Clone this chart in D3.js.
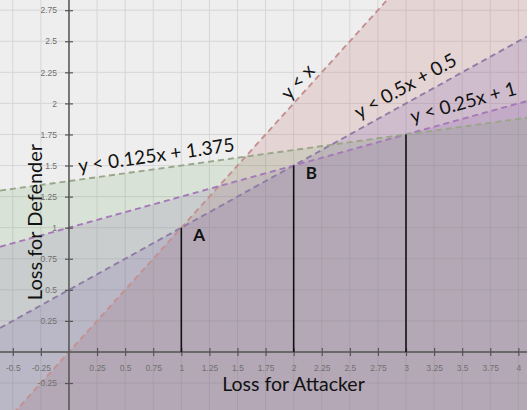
<!DOCTYPE html>
<html><head><meta charset="utf-8">
<script src="https://cdn.jsdelivr.net/npm/d3@7"></script>
<style>html,body{margin:0;padding:0;background:#fff;overflow:hidden}</style>
</head><body><svg id="c" width="529" height="410"></svg>
<script>
// ---- data ----
const lineLabels = ["y < x", "y < 0.5x + 0.5", "y < 0.25x + 1", "y < 0.125x + 1.375"];
const slopes = [1, 0.5, 0.25, 0.125];
const intercepts = [0, 0.5, 1, 1.375];
const labelAtX = [2.112, 2.62, 3.08, 0.1];
const labelAnchor = ["middle", "start", "start", "start"];
const pointNames = ["A", "B"];
const pointX = [1, 2];
const pointY = [1, 1.5];
const dropX = [1, 2, 3];
const dropY = [1, 1.5, 1.75];
const xTickValues = [-0.5, -0.25, 0.25, 0.5, 0.75, 1, 1.25, 1.5, 1.75, 2, 2.25, 2.5, 2.75, 3, 3.25, 3.5, 3.75, 4];
const yTickValues = [-0.25, 0.25, 0.5, 0.75, 1, 1.25, 1.5, 1.75, 2, 2.25, 2.5, 2.75];
const gridStep = 0.25;
const xTitle = "Loss for Attacker";
const yTitle = "Loss for Defender";

// ---- styles ----
const fillColors = ["#c07070", "#6a4aa8", "#8a5ab4", "#5a9a50"];
const fillOpacity = [0.2, 0.17, 0.17, 0.14];
const strokeColors = ["#c49090", "#8f7ca6", "#a578b8", "#9aa68a"];
const labelOffset = [-5, -9, -9, -7];

const W = 527, H = 410;
const x = d3.scaleLinear().domain([-0.614, 4.077]).range([0, W]);
const y = d3.scaleLinear().domain([-0.467, 2.832]).range([H, 0]);

const svg = d3.select("#c");
svg.append("defs").append("clipPath").attr("id", "clip")
  .append("rect").attr("x", 0).attr("y", 0).attr("width", W).attr("height", H);
const g = svg.append("g").attr("clip-path", "url(#clip)");

g.append("rect").attr("width", W).attr("height", H).attr("fill", "#eeeeee");

// grid
const [x0, x1] = x.domain(), [y0, y1] = y.domain();
const gx = d3.range(Math.ceil(x0 / gridStep) * gridStep, x1, gridStep);
const gy = d3.range(Math.ceil(y0 / gridStep) * gridStep, y1, gridStep);
g.append("g").selectAll("line").data(gx).join("line")
  .attr("x1", d => x(d)).attr("x2", d => x(d)).attr("y1", 0).attr("y2", H)
  .attr("stroke", "#d6d6d6").attr("stroke-width", 1);
g.append("g").selectAll("line").data(gy).join("line")
  .attr("y1", d => y(d)).attr("y2", d => y(d)).attr("x1", 0).attr("x2", W)
  .attr("stroke", "#d6d6d6").attr("stroke-width", 1);

// shaded regions
const idx = d3.range(slopes.length);
const f = (i, xv) => slopes[i] * xv + intercepts[i];
g.append("g").selectAll("path").data(idx).join("path")
  .attr("d", i => d3.line()([[x(x0), y(y0)], [x(x0), y(f(i, x0))], [x(x1), y(f(i, x1))], [x(x1), y(y0)]]) + "Z")
  .attr("fill", i => fillColors[i]).attr("fill-opacity", i => fillOpacity[i]);

// dashed boundaries
g.append("g").selectAll("line").data(idx).join("line")
  .attr("x1", x(x0)).attr("x2", x(x1))
  .attr("y1", i => y(f(i, x0))).attr("y2", i => y(f(i, x1)))
  .attr("stroke", i => strokeColors[i]).attr("stroke-width", 1.9)
  .attr("stroke-dasharray", "6,4");

// axes lines
g.append("line").attr("x1", x(0)).attr("x2", x(0)).attr("y1", 0).attr("y2", H)
  .attr("stroke", "#555").attr("stroke-width", 1.5);
g.append("line").attr("y1", y(0)).attr("y2", y(0)).attr("x1", 0).attr("x2", W)
  .attr("stroke", "#555").attr("stroke-width", 1.5);

// tick axes
const ax = g.append("g").attr("transform", `translate(0,${y(0)})`)
  .call(d3.axisBottom(x).tickValues(xTickValues).tickFormat(d => String(d)).tickSize(4).tickPadding(9));
const ay = g.append("g").attr("transform", `translate(${x(0)},0)`)
  .call(d3.axisLeft(y).tickValues(yTickValues).tickFormat(d => String(d)).tickSize(4).tickPadding(8));
[ax, ay].forEach(a => {
  a.select(".domain").remove();
  a.selectAll("text").attr("font-family", "Liberation Sans, Arial, sans-serif")
    .attr("font-size", 8.5).attr("fill", "#707070");
  a.selectAll("line").attr("stroke", "#555").attr("stroke-width", 1.2);
});
ax.selectAll(".tick line").attr("y1", -4).attr("y2", 4);
ay.selectAll(".tick line").attr("x1", -4).attr("x2", 4);

// drop segments
g.append("g").selectAll("line").data(dropX).join("line")
  .attr("x1", d => x(d)).attr("x2", d => x(d))
  .attr("y1", y(0)).attr("y2", (d, i) => y(dropY[i]))
  .attr("stroke", "#111").attr("stroke-width", 1.6);

// inequality labels
const angle = i => Math.atan2(y(slopes[i]) - y(0), x(1) - x(0)) * 180 / Math.PI;
g.append("g").selectAll("text").data(idx).join("text")
  .attr("transform", i => `translate(${x(labelAtX[i])},${y(f(i, labelAtX[i]))}) rotate(${angle(i)})`)
  .attr("y", i => labelOffset[i])
  .attr("text-anchor", i => labelAnchor[i])
  .attr("font-family", "Lato, 'Open Sans', sans-serif").attr("font-size", 19)
  .attr("fill", "#111")
  .text(i => lineLabels[i]);

// point labels
g.append("g").selectAll("text").data(pointNames).join("text")
  .attr("x", (d, i) => x(pointX[i]) + 12).attr("y", (d, i) => y(pointY[i]) + 13.5)
  .attr("font-family", "Lato, sans-serif").attr("font-weight", "bold").attr("font-size", 17)
  .attr("fill", "#111").text(d => d);

// axis titles
g.append("text").attr("x", 293.5).attr("y", 391).attr("text-anchor", "middle")
  .attr("font-family", "Lato, sans-serif").attr("font-size", 19.5).attr("fill", "#111").text(xTitle);
g.append("text").attr("transform", "translate(42,222) rotate(-90)").attr("text-anchor", "middle")
  .attr("font-family", "Lato, sans-serif").attr("font-size", 20).attr("fill", "#111").text(yTitle);
</script></body></html>
